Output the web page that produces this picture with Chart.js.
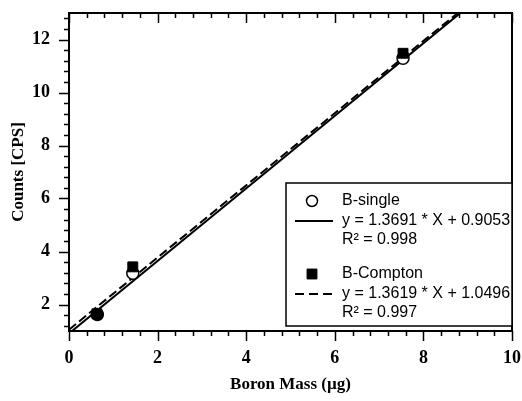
<!DOCTYPE html>
<html>
<head>
<meta charset="utf-8">
<script src="https://cdn.jsdelivr.net/npm/chart.js@4.4.0/dist/chart.umd.min.js"></script>
<style>
  html, body { margin: 0; padding: 0; background: #fff; }
  #wrap { width: 522px; height: 401px; }
</style>
</head>
<body>
<div id="wrap"><canvas id="chart" width="522" height="401"></canvas></div>
<script>
const SINGLE_X = [0.64, 1.44, 7.54];
const SINGLE_Y = [1.62, 3.18, 11.29];
const COMPTON_X = [0.63, 1.44, 7.54];
const COMPTON_Y = [1.65, 3.42, 11.48];

// fit lines, end points at x = 0 and x = 10 (from the legend equations)
const FIT_X = [0, 10];
const SINGLE_FIT_Y = [0.9053, 14.5963];
const COMPTON_FIT_Y = [1.0496, 14.6686];

const X_TICKS = [0, 2, 4, 6, 8, 10];
const Y_TICKS = [2, 4, 6, 8, 10, 12];

const LEGEND_NAMES = ["B-single", "B-Compton"];
const LEGEND_FITS = ["y = 1.3691 * X + 0.9053", "y = 1.3619 * X + 1.0496"];
const LEGEND_R2 = ["R² = 0.998", "R² = 0.997"];

const pts = (xs, ys) => xs.map((x, i) => ({ x, y: ys[i] }));

const SERIF = '"Liberation Serif", "DejaVu Serif", serif';
const SANS = '"Liberation Sans", Arial, sans-serif';

// every 0.4 between min and max, flagged major on multiples of 2
function tickMarks(min, max) {
  const out = [];
  for (let k = Math.ceil(min / 0.4 - 1e-6); k * 0.4 <= max + 1e-6; k++) {
    const v = Math.round(k * 4) / 10;
    out.push({ v, major: Math.abs(v / 2 - Math.round(v / 2)) < 1e-6 });
  }
  return out;
}

// plot frame, tick marks and the boxed legend
const framePlugin = {
  id: "frame",
  afterDraw(chart) {
    const { ctx, chartArea: a, scales: { x, y } } = chart;
    ctx.save();
    ctx.strokeStyle = "#000";
    ctx.lineWidth = 1.5;
    ctx.beginPath();
    tickMarks(x.min, x.max).forEach(t => {
      const px = Math.round(x.getPixelForValue(t.v)) + 0.5;
      const len = t.major ? 10 : 5;
      ctx.moveTo(px, a.bottom); ctx.lineTo(px, a.bottom + len);
      ctx.moveTo(px, a.top); ctx.lineTo(px, a.top + len);
    });
    tickMarks(y.min, y.max).forEach(t => {
      const py = Math.round(y.getPixelForValue(t.v)) + 0.5;
      const len = t.major ? 10 : 5;
      ctx.moveTo(a.left, py); ctx.lineTo(a.left - len, py);
    });
    ctx.stroke();

    ctx.lineWidth = 2;
    ctx.strokeRect(a.left, a.top, a.right - a.left, a.bottom - a.top);

    // legend box
    const W = 226, H = 143;
    const L = a.right - W, T = a.bottom - 5 - H;
    ctx.fillStyle = "#fff";
    ctx.fillRect(L, T, W, H);
    ctx.lineWidth = 1.5;
    ctx.strokeRect(L, T, W, H);

    const styles = [
      { point: { pointStyle: "circle", radius: 5.5, borderWidth: 1.5 }, fill: "#fff", dash: [] },
      { point: { pointStyle: "rect", radius: 7, borderWidth: 1 }, fill: "#000", dash: [9, 5] }
    ];
    ctx.font = "16px " + SANS;
    ctx.textBaseline = "middle";
    ctx.textAlign = "left";
    LEGEND_NAMES.forEach((name, i) => {
      const top = T + 18 + i * 73;
      ctx.fillStyle = styles[i].fill;
      ctx.strokeStyle = "#000";
      ctx.lineWidth = styles[i].point.borderWidth;
      Chart.helpers.drawPoint(ctx, styles[i].point, L + 26, top);
      ctx.lineWidth = 2;
      ctx.setLineDash(styles[i].dash);
      ctx.beginPath();
      ctx.moveTo(L + 9, top + 20);
      ctx.lineTo(L + 47, top + 20);
      ctx.stroke();
      ctx.setLineDash([]);
      ctx.fillStyle = "#000";
      ctx.fillText(name, L + 56, top);
      ctx.fillText(LEGEND_FITS[i], L + 56, top + 20);
      ctx.fillText(LEGEND_R2[i], L + 56, top + 39);
    });
    ctx.restore();
  }
};

new Chart(document.getElementById("chart"), {
  type: "scatter",
  data: {
    datasets: [
      {
        label: "B-Compton",
        data: pts(COMPTON_X, COMPTON_Y),
        pointStyle: "rect",
        pointRadius: 7,
        backgroundColor: "#000",
        borderColor: "#000",
        borderWidth: 1,
        order: 0
      },
      {
        label: "B-single",
        data: pts(SINGLE_X, SINGLE_Y),
        pointStyle: "circle",
        pointRadius: 6,
        backgroundColor: ["#000", "#fff", "#fff"],
        borderColor: "#000",
        borderWidth: 1.5,
        order: 1
      },
      {
        label: "B-single fit",
        data: pts(FIT_X, SINGLE_FIT_Y),
        showLine: true,
        pointRadius: 0,
        borderColor: "#000",
        borderWidth: 2,
        clip: 0,
        order: 2
      },
      {
        label: "B-Compton fit",
        data: pts(FIT_X, COMPTON_FIT_Y),
        showLine: true,
        pointRadius: 0,
        borderColor: "#000",
        borderWidth: 2,
        borderDash: [9, 4],
        clip: 0,
        order: 3
      }
    ]
  },
  options: {
    responsive: false,
    animation: false,
    layout: { padding: { top: 13, right: 10, left: 0, bottom: 0 } },
    plugins: {
      legend: { display: false },
      tooltip: { enabled: false }
    },
    scales: {
      x: {
        type: "linear",
        min: 0,
        max: 10,
        afterBuildTicks: s => { s.ticks = X_TICKS.map(v => ({ value: v })); },
        afterFit: s => { s.height = 70; s.paddingLeft = 0; s.paddingRight = 0; },
        grid: { display: false, drawTicks: false },
        border: { display: false },
        ticks: { color: "#000", padding: 17, font: { family: SERIF, size: 18, weight: "bold" } },
        title: {
          display: true,
          text: "Boron Mass (µg)",
          color: "#000",
          padding: { bottom: 6 },
          font: { family: SERIF, size: 17, weight: "bold" }
        }
      },
      y: {
        type: "linear",
        min: 1,
        max: 13,
        afterBuildTicks: s => { s.ticks = Y_TICKS.map(v => ({ value: v })); },
        afterFit: s => { s.width = 69; s.paddingTop = 0; s.paddingBottom = 0; },
        grid: { display: false, drawTicks: false },
        border: { display: false },
        ticks: { color: "#000", padding: 19, font: { family: SERIF, size: 18, weight: "bold" } },
        title: {
          display: true,
          text: "Counts [CPS]",
          color: "#000",
          padding: { top: 8 },
          font: { family: SERIF, size: 17, weight: "bold" }
        }
      }
    }
  },
  plugins: [framePlugin]
});
</script>
</body>
</html>
